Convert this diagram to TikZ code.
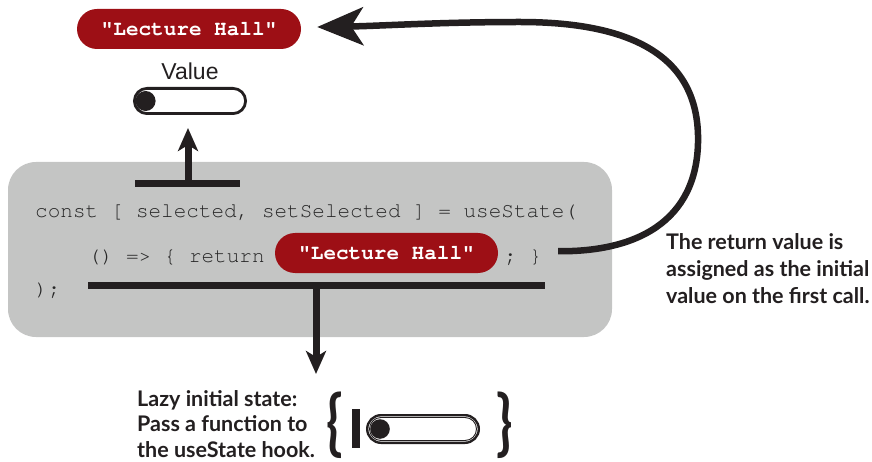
\documentclass[tikz,border=0pt]{standalone}
\usepackage{fontspec}
\setmainfont{Lato}
\newfontfamily\codefont{TeX Gyre Cursor}[Ligatures=TeXOff]
\newfontfamily\labelfont{Liberation Sans}
\newfontfamily\notefont{Lato}
\usetikzlibrary{arrows.meta,calc,shapes.misc}

\definecolor{ink}{HTML}{231F20}
\definecolor{codegray}{HTML}{262626}
\definecolor{panel}{HTML}{C4C5C4}
\definecolor{brick}{HTML}{9D0F15}

\begin{document}
\begin{tikzpicture}[x=1pt,y=-1pt,
  redpill/.style={rounded rectangle, fill=brick, text=white, minimum width=224pt,
    minimum height=40pt, inner sep=0pt,
    font=\codefont\bfseries\fontsize{21}{24}\selectfont},
  code/.style={anchor=base west, inner sep=0pt, text=codegray,
    font=\codefont\fontsize{21}{24}\selectfont},
  note/.style={anchor=north west, inner sep=0pt, align=left, text=ink,
    font=\notefont\bfseries\fontsize{21.5}{27}\selectfont},
  swouter/.style={rounded rectangle, draw=ink, inner sep=0pt},
  swinner/.style={rounded rectangle, draw=ink, line width=0.9pt, inner sep=0pt},
  bar/.style={draw=ink, line width=7pt},
  stem/.style={draw=ink, line width=7pt, -{Stealth[length=23pt,width=20pt,inset=6pt]}},
  brace/.style={inner sep=0pt, text=ink, font=\notefont\bfseries\fontsize{54}{54}\selectfont},
]
\useasboundingbox (0,0) rectangle (872,462);

% code panel
\node[fill=panel, rounded corners=28pt, minimum width=604pt, minimum height=175pt,
  inner sep=0pt] (panel) at (310,249.5) {};

% returned value and the state toggle above the panel
\node[redpill] (val) at (189,29) {"Lecture Hall"};
\node[inner sep=0pt, text=ink, font=\labelfont\fontsize{23}{26}\selectfont]
  (vallabel) at (190,71) {Value};
\node[swouter, line width=2.8pt, minimum width=111.2pt, minimum height=25.2pt]
  (valsw) at (190,101) {};
\fill[ink] ($(valsw.west)+(12.6,0)$) circle (10);

% code lines
\node[code] (line1) at (35,218) {const [ selected, setSelected ] = useState(};
\node[code] (line2) at (88,262) {() => \{ return};
\node[redpill, minimum width=223pt] (ret) at (386.5,253) {"Lecture Hall"};
\node[code] (semi) at (504,262) {; \}};
\node[code] (line3) at (35,295) {);};

% upper T-bar and arrow to the toggle
\coordinate (tbarL) at (135,184);
\coordinate (tbarR) at (240,184);
\coordinate (tbarM) at (188,184);
\draw[bar] (tbarL) -- (tbarR);
\draw[stem] (tbarM) -- ([yshift=-13pt]tbarM |- valsw.south);

% lower bar and arrow down to the lazy-state note
\coordinate (lbarL) at (88,285.5);
\coordinate (lbarR) at (545,285.5);
\coordinate (lbarM) at (316,285.5);
\coordinate (lazytip) at (316,374);
\draw[bar] (lbarL) -- (lbarR);
\draw[stem] (lbarM) -- (lazytip);

% curved arrow from the function body back to the value
\coordinate (curveA) at ($(semi.east)+(16,-6)$);
\draw[draw=ink, line width=6.5pt, -{Stealth[length=46pt,width=38pt,inset=12pt]}]
  (curveA) .. controls (645,252) and (700,215) .. (698,135)
  .. controls (696,55) and (630,22) .. (520,22)
  .. controls (440,22) and (380,26) .. ($(val.east)+(16,-2)$);

% notes
\node[note] (retnote) at (666,233)
  {The return value is\\assigned as the initial\\value on the first call.};
\node[note, font=\notefont\bfseries\fontsize{21.5}{25.5}\selectfont] (lazynote) at (137,390)
  {Lazy initial state:\\Pass a function to\\the useState hook.};

% function-wrapped toggle
\node[brace] (lbrace) at (335,425) {\scalebox{1}[1.33]{\{}};
\fill[ink] (352,409) rectangle (360,448);
\node[swouter, line width=2.4pt, minimum width=111.6pt, minimum height=27.6pt]
  (lazysw) at (423,429) {};
\node[swinner, minimum width=107pt, minimum height=23pt] (lazyswin) at (lazysw.center) {};
\fill[ink] ($(lazysw.west)+(14,0)$) circle (9.8);
\node[brace] (rbrace) at (505,425) {\scalebox{1}[1.33]{\}}};
\end{tikzpicture}
\end{document}
